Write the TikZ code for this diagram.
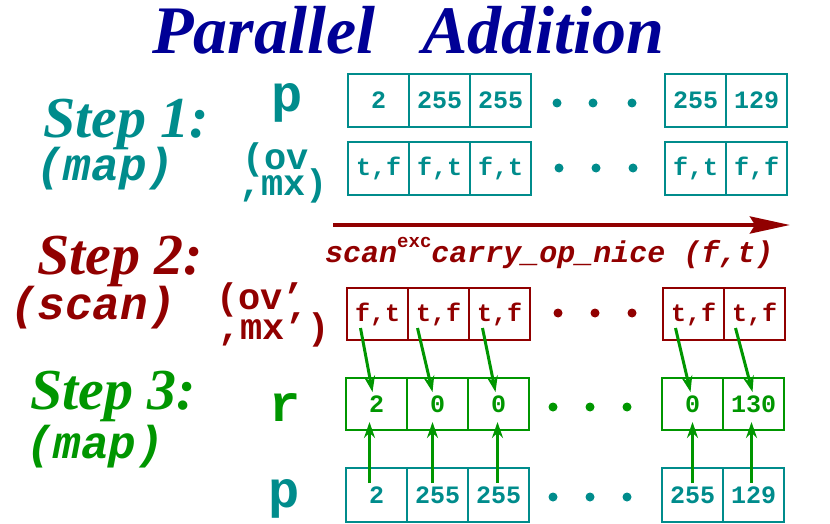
\documentclass[tikz,border=0pt]{standalone}
\usepackage{fontspec}
\usepackage{xcolor}
\usepackage{tikz}
\usetikzlibrary{arrows.meta}
\usetikzlibrary{calc}

\newfontfamily\timesfont{Liberation Serif}
\newfontfamily\courfont{Liberation Mono}

\definecolor{titleblue}{RGB}{0,0,150}
\definecolor{stepteal}{RGB}{0,140,140}
\definecolor{stepred}{RGB}{145,0,0}
\definecolor{stepgreen}{RGB}{0,150,0}

\newcommand{\monosize}[1]{\courfont\bfseries\fontsize{#1}{#1}\selectfont}
\newcommand{\stepsize}[1]{\timesfont\bfseries\itshape\fontsize{#1}{#1}\selectfont}

\begin{document}
\begin{tikzpicture}[x=1pt,y=-1pt,
    cell/.style={rectangle,draw,line width=2pt,minimum width=61pt,minimum height=53pt,inner sep=0pt,font=\monosize{25}},
    steplabel/.style={anchor=base west,inner sep=0pt,font=\stepsize{58}},
    sublabel/.style={anchor=base west,inner sep=0pt,font=\monosize{46}\itshape},
    rowlabel/.style={anchor=base,inner sep=0pt,font=\monosize{52}},
    pairlabel/.style={anchor=base west,inner sep=0pt,font=\monosize{37}},
    carry/.style={stepgreen,line width=3pt,-{Stealth[length=16pt,width=11pt]}}]
    \useasboundingbox (0,0) rectangle (830,524);

    \node[anchor=base west,inner sep=0pt,text=titleblue,font=\stepsize{68}] (title) at (152,54) {Parallel\hspace{30pt} Addition};

    % step 1
    \begin{scope}[text=stepteal]
      \node[steplabel] (step1) at (43,138) {Step 1:};
      \node[sublabel] (map1) at (36,180) {(map)};
      \node[rowlabel] (ptop) at (287,112) {p};
      \node[pairlabel] (ov) at (242,170) {(ov};
      \node[pairlabel] (mx) at (239,195) {,mx)};
    \end{scope}
    \begin{scope}[every node/.style={cell,draw=stepteal,text=stepteal}]
      \node (p1) at (378.5,100.5) {2};
      \node (p2) at (439.5,100.5) {255};
      \node (p3) at (500.5,100.5) {255};
      \node (p4) at (695.5,100.5) {255};
      \node (p5) at (756.5,100.5) {129};
      \node (o1) at (378.5,168.5) {t,f};
      \node (o2) at (439.5,168.5) {f,t};
      \node (o3) at (500.5,168.5) {f,t};
      \node (o4) at (695.5,168.5) {f,t};
      \node (o5) at (756.5,168.5) {f,f};
    \end{scope}
    \fill[stepteal] (557,103) circle[radius=4.5] (593,103) circle[radius=4.5] (632,103) circle[radius=4.5];
    \fill[stepteal] (559,168) circle[radius=4.5] (596,168) circle[radius=4.5] (633,168) circle[radius=4.5];

    % step 2
    \coordinate (scanstart) at (333,225);
    \coordinate (scanend) at (790,225);
    \draw[stepred,line width=4pt,-{Stealth[length=40pt,width=17pt,inset=5pt]}] (scanstart) -- (scanend);
    \begin{scope}[text=stepred]
      \node[anchor=base west,inner sep=0pt,font=\monosize{30}\itshape] (scanop) at (325,262) {scan\raisebox{15pt}{\fontsize{19}{19}\selectfont\upshape exc}carry\_op\_nice (f,t)};
      \node[steplabel] (step2) at (37,274) {Step 2:};
      \node[sublabel] (scan) at (10,319) {(scan)};
      \node[pairlabel] (ovp) at (216,309) {(ov’};
      \node[pairlabel] (mxp) at (218,339) {,mx’)};
    \end{scope}
    \begin{scope}[every node/.style={cell,draw=stepred,text=stepred,minimum height=52pt}]
      \node (s1) at (377.5,314) {f,t};
      \node (s2) at (438.5,314) {t,f};
      \node (s3) at (499.5,314) {t,f};
      \node (s4) at (693.5,314) {t,f};
      \node (s5) at (754.5,314) {t,f};
    \end{scope}
    \fill[stepred] (558,313) circle[radius=4.5] (595,313) circle[radius=4.5] (632,313) circle[radius=4.5];

    % step 3
    \begin{scope}[text=stepgreen]
      \node[steplabel] (step3) at (30,409) {Step 3:};
      \node[sublabel] (map3) at (26,458) {(map)};
      \node[rowlabel] (r) at (285,421) {r};
    \end{scope}
    \node[rowlabel,text=stepteal] (pbot) at (284,507) {p};
    \begin{scope}[every node/.style={cell,draw=stepgreen,text=stepgreen,minimum height=52pt}]
      \node (r1) at (376.5,404) {2};
      \node (r2) at (437.5,404) {0};
      \node (r3) at (498.5,404) {0};
      \node (r4) at (692.5,404) {0};
      \node (r5) at (753.5,404) {130};
    \end{scope}
    \begin{scope}[every node/.style={cell,draw=stepteal,text=stepteal,minimum height=54pt}]
      \node (q1) at (376.5,495) {2};
      \node (q2) at (437.5,495) {255};
      \node (q3) at (498.5,495) {255};
      \node (q4) at (692.5,495) {255};
      \node (q5) at (753.5,495) {129};
    \end{scope}
    \fill[stepgreen] (553,407) circle[radius=4.5] (590,407) circle[radius=4.5] (627,407) circle[radius=4.5];
    \fill[stepteal] (553,497) circle[radius=4.5] (590,497) circle[radius=4.5] (627,497) circle[radius=4.5];

    % carries and inputs
    \draw[carry] ([shift={(-17,14)}]s1.center) -- ([shift={(-4,-12)}]r1.center);
    \draw[carry] ([shift={(-21,14)}]s2.center) -- ([shift={(-5,-12)}]r2.center);
    \draw[carry] ([shift={(-17,14)}]s3.center) -- ([shift={(-3,-12)}]r3.center);
    \draw[carry] ([shift={(-18,14)}]s4.center) -- ([shift={(-2,-12)}]r4.center);
    \draw[carry] ([shift={(-19,14)}]s5.center) -- ([shift={(-1,-12)}]r5.center);
    \draw[carry] ([shift={(-7,-12)}]q1.center) -- ([shift={(-7,18)}]r1.center);
    \draw[carry] ([shift={(-5,-12)}]q2.center) -- ([shift={(-5,18)}]r2.center);
    \draw[carry] ([shift={(-1,-12)}]q3.center) -- ([shift={(-1,18)}]r3.center);
    \draw[carry] ([shift={(0,-12)}]q4.center) -- ([shift={(0,18)}]r4.center);
    \draw[carry] ([shift={(-2,-12)}]q5.center) -- ([shift={(-2,18)}]r5.center);
  \end{tikzpicture}
\end{document}
